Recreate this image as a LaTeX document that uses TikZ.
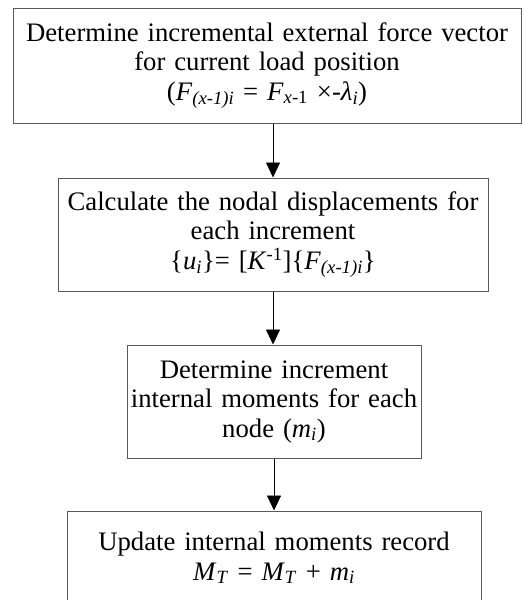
\documentclass[tikz,border=0pt]{standalone}
\usepackage{fontspec}
\setmainfont{Liberation Serif}
\usepackage{tikz}
\usetikzlibrary{arrows.meta, positioning, calc}
\definecolor{boxgray}{RGB}{90,90,90}
\tikzset{
  stepbox/.style={rectangle, draw=boxgray, fill=white, line width=1pt,
    align=center, inner sep=0pt,
    font=\fontsize{26.7}{29.5}\selectfont},
  arrow/.style={-{Triangle[width=14pt, length=15pt]}, line width=0.8pt, color=black}
}

\begin{document}
\begin{tikzpicture}[x=1pt, y=-1pt]
  \useasboundingbox (0,0) rectangle (523,600);
  \clip (0,0) rectangle (523,600);

  % External force vector
  \node[stepbox, minimum width=508pt, minimum height=115pt, text width=500pt] (force) at (267,65.5)
    {Determine incremental external force vector\\ for current load position\\
     (\textit{F}\textsubscript{\textit{(x-1)i}} = \textit{F}\textsubscript{\textit{x}-1} ×-\textit{λ}\textsubscript{\textit{i}})};

  % Nodal displacements
  \node[stepbox, minimum width=430pt, minimum height=113pt, text width=422pt] (disp) at (273,234.5)
    {Calculate the nodal displacements for\\ each increment\\
     \{\textit{u}\textsubscript{\textit{i}}\}= [\textit{K}\textsuperscript{-1}]\{\textit{F}\textsubscript{\textit{(x-1)i}}\}};

  % Internal moments
  \node[stepbox, minimum width=294pt, minimum height=113pt, text width=288pt] (moment) at (274,401.5)
    {Determine increment\\ internal moments for each\\ node (\textit{m}\textsubscript{\textit{i}})};

  % Record update (runs off the bottom)
  \node[stepbox, minimum width=414pt, minimum height=94pt, text width=406pt] (record) at (274,558)
    {Update internal moments record\\
     \textit{M}\textsubscript{\textit{T}} = \textit{M}\textsubscript{\textit{T}} + \textit{m}\textsubscript{\textit{i}}};

  \draw[arrow] (force.south -| disp.north) -- (disp.north);
  \draw[arrow] (disp.south) -- (disp.south |- moment.north);
  \draw[arrow] (moment.south) -- (moment.south |- record.north);
\end{tikzpicture}
\end{document}
